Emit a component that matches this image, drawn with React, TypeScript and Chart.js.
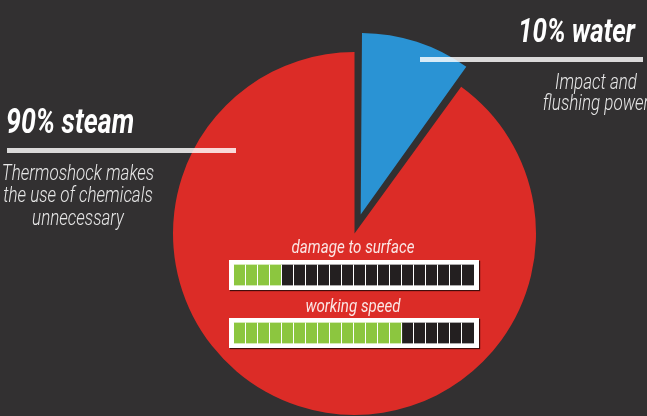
import React, { useEffect, useRef } from "react";
import { Chart, registerables } from "chart.js";

Chart.register(...registerables);

// ---- data ----
const sliceLabels = ["water", "steam"];
const sliceValues = [10, 90];
const sliceColors = ["#2A93D4", "#DC2C27"];
const sliceOffsets = [80, 0];

const waterTitle = "10% water";
const waterNote = ["Impact and", "flushing power"];
const steamTitle = "90% steam";
const steamNote = ["Thermoshock makes", "the use of chemicals", "unnecessary"];

const meterLabels = ["damage to surface", "working speed"];
const meterValues = [4, 14];
const meterCells = 20;

const BG = "#323031";
const GREEN = "#8CC63F";
const DARK = "#231F20";

type LabelProps = {
  text: string;
  x: number;
  base: number;
  size: number;
  weight: number;
  align: "left" | "center" | "right";
  color: string;
  sx: number;
};

function Label({ text, x, base, size, weight, align, color, sx }: LabelProps) {
  const top = base - 0.842 * size;
  const tx =
    align === "center" ? " translateX(-50%)" : align === "right" ? " translateX(-100%)" : "";
  return (
    <div
      style={{
        position: "absolute",
        left: x,
        top,
        fontFamily: "Roboto, 'Noto Sans', sans-serif",
        fontSize: size,
        fontWeight: weight,
        fontStyle: "italic",
        lineHeight: `${size}px`,
        color,
        whiteSpace: "nowrap",
        transformOrigin: "0 0",
        transform: `scaleX(${sx})${tx}`,
      }}
    >
      {text}
    </div>
  );
}

function PieCanvas() {
  const ref = useRef<HTMLCanvasElement>(null);
  useEffect(() => {
    // keep exploded slices at the same radius as the others
    const explode = {
      id: "explode",
      afterDatasetsUpdate(chart: any) {
        const meta = chart.getDatasetMeta(0);
        meta.data.forEach((arc: any, i: number) => {
          const off = (sliceOffsets[i] || 0) / 4;
          const circ = arc.endAngle - arc.startAngle;
          const fix = 1 - Math.sin(Math.min(Math.PI, circ));
          arc.outerRadius = arc.outerRadius - off * fix;
        });
      },
    };
    const chart = new Chart(ref.current as HTMLCanvasElement, {
      type: "pie",
      data: {
        labels: sliceLabels,
        datasets: [
          {
            data: sliceValues,
            backgroundColor: sliceColors,
            offset: sliceOffsets,
            borderWidth: 0,
            radius: 181.5,
            clip: false,
          } as any,
        ],
      },
      options: {
        responsive: false,
        animation: false,
        events: [],
        layout: { padding: { left: 62, right: 0, top: 51, bottom: 0 } },
        plugins: { legend: { display: false }, tooltip: { enabled: false } },
      },
      plugins: [explode],
    });
    return () => chart.destroy();
  }, []);
  return (
    <canvas
      ref={ref}
      width={647}
      height={416}
      style={{ position: "absolute", left: 0, top: 0, width: 647, height: 416 }}
    />
  );
}

function Meter({ value, left, top }: { value: number; left: number; top: number }) {
  const ref = useRef<HTMLCanvasElement>(null);
  useEffect(() => {
    const chart = new Chart(ref.current as HTMLCanvasElement, {
      type: "bar",
      data: {
        labels: [""],
        datasets: [
          { data: [value], backgroundColor: GREEN, borderWidth: 0, barPercentage: 1, categoryPercentage: 1 },
          { data: [meterCells - value], backgroundColor: DARK, borderWidth: 0, barPercentage: 1, categoryPercentage: 1 },
        ],
      },
      options: {
        indexAxis: "y",
        responsive: false,
        animation: false,
        events: [],
        layout: { padding: { left: 4.5, right: 5, top: 4.5, bottom: 4.5 } },
        scales: {
          x: {
            stacked: true,
            min: 0,
            max: meterCells,
            ticks: { display: false, stepSize: 1 },
            grid: { color: "#ffffff", lineWidth: 1, drawTicks: false, z: 1 },
            border: { display: false },
          },
          y: { stacked: true, display: false },
        },
        plugins: { legend: { display: false }, tooltip: { enabled: false } },
      },
    });
    return () => chart.destroy();
  }, [value]);
  return (
    <canvas
      ref={ref}
      width={250}
      height={30}
      style={{
        position: "absolute",
        left,
        top,
        width: 250,
        height: 30,
        background: "#ffffff",
        boxShadow: "1px 1px 1px rgba(0,0,0,0.7)",
      }}
    />
  );
}

export default function App() {
  useEffect(() => {
    document.body.style.margin = "0";
  }, []);
  const noteColor = "#e8e8e8";
  const lineColor = "rgba(255,255,255,0.82)";
  return (
    <div
      style={{
        position: "absolute",
        left: 0,
        top: 0,
        width: 647,
        height: 416,
        overflow: "hidden",
        background: BG,
      }}
    >
      <PieCanvas />

      {/* steam callout */}
      <Label text={steamTitle} x={6} base={133.3} size={35} weight={700} align="left" color="#ffffff" sx={0.765} />
      <div style={{ position: "absolute", left: 7, top: 147.5, width: 229, height: 5, background: lineColor }} />
      {steamNote.map((t, i) => (
        <Label key={t} text={t} x={77.5} base={180 + i * 22.5} size={21.5} weight={300} align="center" color={noteColor} sx={0.79} />
      ))}

      {/* water callout */}
      <Label text={waterTitle} x={635} base={41.7} size={33} weight={700} align="right" color="#ffffff" sx={0.785} />
      <div style={{ position: "absolute", left: 420, top: 57, width: 223, height: 5, background: lineColor }} />
      {waterNote.map((t, i) => (
        <Label key={t} text={t} x={596} base={89.3 + i * 21} size={21.5} weight={300} align="center" color={noteColor} sx={0.79} />
      ))}

      {/* meters */}
      {meterLabels.map((t, i) => (
        <React.Fragment key={t}>
          <Label text={t} x={353} base={253.3 + i * 58.4} size={18} weight={400} align="center" color="#fbe6e5" sx={0.84} />
          <Meter value={meterValues[i]} left={229} top={260 + i * 58.4} />
        </React.Fragment>
      ))}
    </div>
  );
}
